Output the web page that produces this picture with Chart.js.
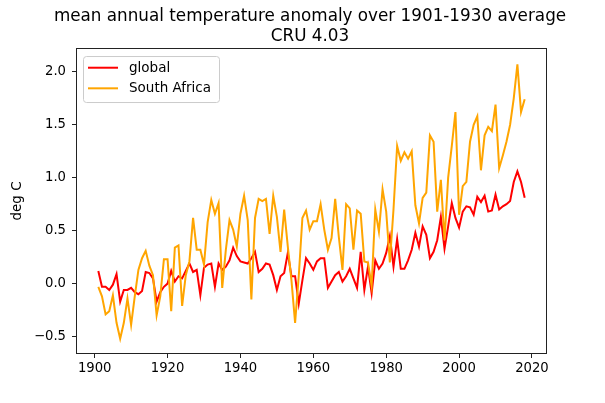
<!DOCTYPE html>
<html>
<head>
<meta charset="utf-8">
<script src="https://cdn.jsdelivr.net/npm/chart.js@4.4.0/dist/chart.umd.min.js"></script>
<style>
  html, body { margin: 0; padding: 0; background: #fff; }
  #wrap { width: 605px; height: 403px; }
</style>
</head>
<body>
<div id="wrap"><canvas id="chart"></canvas></div>
<script>
// years of the CRU 4.03 record
const years = [
  1901, 1902, 1903, 1904, 1905, 1906, 1907, 1908, 1909, 1910,
  1911, 1912, 1913, 1914, 1915, 1916, 1917, 1918, 1919, 1920,
  1921, 1922, 1923, 1924, 1925, 1926, 1927, 1928, 1929, 1930,
  1931, 1932, 1933, 1934, 1935, 1936, 1937, 1938, 1939, 1940,
  1941, 1942, 1943, 1944, 1945, 1946, 1947, 1948, 1949, 1950,
  1951, 1952, 1953, 1954, 1955, 1956, 1957, 1958, 1959, 1960,
  1961, 1962, 1963, 1964, 1965, 1966, 1967, 1968, 1969, 1970,
  1971, 1972, 1973, 1974, 1975, 1976, 1977, 1978, 1979, 1980,
  1981, 1982, 1983, 1984, 1985, 1986, 1987, 1988, 1989, 1990,
  1991, 1992, 1993, 1994, 1995, 1996, 1997, 1998, 1999, 2000,
  2001, 2002, 2003, 2004, 2005, 2006, 2007, 2008, 2009, 2010,
  2011, 2012, 2013, 2014, 2015, 2016, 2017, 2018
];

// anomaly in deg C
const globalAnomaly = [
  0.12, -0.03, -0.03, -0.06, -0.01, 0.09, -0.17, -0.06, -0.06, -0.04,
  -0.08, -0.10, -0.07, 0.11, 0.10, 0.05, -0.17, -0.08, -0.03, 0.00,
  0.12, 0.02, 0.07, 0.05, 0.12, 0.19, 0.11, 0.13, -0.11, 0.15,
  0.18, 0.19, -0.03, 0.19, 0.13, 0.16, 0.22, 0.34, 0.26, 0.21,
  0.20, 0.19, 0.24, 0.30, 0.11, 0.14, 0.19, 0.18, 0.08, -0.06,
  0.07, 0.10, 0.29, 0.07, 0.07, -0.19, 0.03, 0.24, 0.19, 0.13,
  0.21, 0.24, 0.24, -0.04, 0.02, 0.08, 0.11, 0.02, 0.07, 0.14,
  0.05, -0.04, 0.30, -0.06, 0.16, -0.09, 0.22, 0.14, 0.19, 0.29,
  0.45, 0.16, 0.42, 0.14, 0.14, 0.22, 0.32, 0.48, 0.35, 0.54,
  0.46, 0.24, 0.30, 0.41, 0.63, 0.33, 0.54, 0.76, 0.62, 0.53,
  0.68, 0.73, 0.72, 0.65, 0.82, 0.77, 0.83, 0.68, 0.69, 0.84,
  0.70, 0.73, 0.75, 0.78, 0.96, 1.06, 0.96, 0.81
];

const southAfricaAnomaly = [
  -0.03, -0.12, -0.29, -0.26, -0.11, -0.37, -0.52, -0.37, -0.14, -0.39,
  -0.12, 0.13, 0.24, 0.31, 0.17, 0.08, -0.30, -0.12, 0.23, 0.23,
  -0.26, 0.34, 0.36, -0.21, 0.08, 0.21, 0.62, 0.32, 0.32, 0.18,
  0.58, 0.79, 0.66, 0.76, -0.04, 0.32, 0.60, 0.51, 0.35, 0.66,
  0.83, 0.60, -0.15, 0.62, 0.80, 0.78, 0.80, 0.47, 0.83, 0.63,
  0.30, 0.70, 0.35, 0.03, -0.37, 0.07, 0.62, 0.69, 0.51, 0.59,
  0.59, 0.75, 0.51, 0.32, 0.43, 0.80, 0.44, 0.13, 0.75, 0.71,
  0.32, 0.69, 0.66, 0.21, 0.20, -0.02, 0.70, 0.49, 0.89, 0.68,
  0.20, 0.70, 1.30, 1.16, 1.24, 1.18, 1.25, 0.74, 0.57, 0.81,
  0.86, 1.40, 1.34, 0.68, 0.98, 0.41, 1.00, 1.30, 1.62, 0.65,
  0.92, 0.96, 1.34, 1.50, 1.58, 1.07, 1.40, 1.48, 1.44, 1.69,
  1.09, 1.21, 1.34, 1.50, 1.75, 2.07, 1.62, 1.74
];

const xTickValues = [1900, 1920, 1940, 1960, 1980, 2000, 2020];
const yTickValues = [-0.5, 0.0, 0.5, 1.0, 1.5, 2.0];
const titleLines = ['mean annual temperature anomaly over 1901-1930 average', 'CRU 4.03'];
const yAxisLabel = 'deg C';

const FONT = "'DejaVu Sans', sans-serif";

function toPoints(values) {
  return years.map((y, i) => ({ x: y, y: values[i] }));
}

// matplotlib style frame on all four sides
const axesFrame = {
  id: 'axesFrame',
  afterDatasetsDraw(chart) {
    const { ctx, chartArea: a } = chart;
    ctx.save();
    ctx.strokeStyle = '#222';
    ctx.lineWidth = 1;
    ctx.strokeRect(Math.round(a.left) - 0.5, Math.round(a.top) - 0.5,
      Math.round(a.right - a.left) + 1, Math.round(a.bottom - a.top) + 1);
    ctx.restore();
  }
};

// legend box in the upper left of the axes
const legendBox = {
  id: 'legendBox',
  afterDraw(chart) {
    const { ctx, chartArea: a } = chart;
    const x = a.left + 6.5, y = a.top + 7.5, w = 136, h = 46;
    ctx.save();
    ctx.beginPath();
    if (ctx.roundRect) ctx.roundRect(x, y, w, h, 3); else ctx.rect(x, y, w, h);
    ctx.fillStyle = 'rgba(255,255,255,0.8)';
    ctx.fill();
    ctx.strokeStyle = '#cccccc';
    ctx.lineWidth = 1;
    ctx.stroke();
    ctx.font = '13.5px ' + FONT;
    ctx.textBaseline = 'middle';
    ctx.textAlign = 'left';
    chart.data.datasets.forEach((ds, i) => {
      const ly = a.top + 18.7 + i * 20.6;
      ctx.strokeStyle = ds.borderColor;
      ctx.lineWidth = 2;
      ctx.beginPath();
      ctx.moveTo(a.left + 11, ly);
      ctx.lineTo(a.left + 41, ly);
      ctx.stroke();
      ctx.fillStyle = '#000';
      ctx.fillText(ds.label, a.left + 52, ly + 0.5);
    });
    ctx.restore();
  }
};

const ctx = document.getElementById('chart');

const config = {
  type: 'line',
  data: {
    datasets: [{
      label: 'global',
      data: toPoints(globalAnomaly),
      borderColor: '#ff0000',
      borderWidth: 2,
      pointRadius: 0,
      tension: 0,
      fill: false,
      order: 1
    }, {
      label: 'South Africa',
      data: toPoints(southAfricaAnomaly),
      borderColor: '#ffa500',
      borderWidth: 2,
      pointRadius: 0,
      tension: 0,
      fill: false,
      order: 0
    }]
  },
  options: {
    animation: false,
    responsive: true,
    maintainAspectRatio: false,
    // left padding shifts the full-width title so it centres over the axes
    layout: { padding: { left: 15, right: 0, top: 0, bottom: 0 } },
    plugins: {
      legend: { display: false },
      tooltip: { enabled: false },
      title: {
        display: true,
        text: titleLines,
        fullSize: true,
        color: '#000',
        font: { family: FONT, size: 16.8, weight: 'normal', lineHeight: 1.2 },
        padding: { top: 6.3, bottom: 2.4 }
      }
    },
    scales: {
      x: {
        type: 'linear',
        min: 1895.15,
        max: 2023.85,
        afterFit(scale) { scale.height = 50; },
        afterBuildTicks(scale) { scale.ticks = xTickValues.map(v => ({ value: v })); },
        border: { display: false },
        grid: { display: true, drawOnChartArea: false, drawTicks: true, tickLength: 5, tickColor: '#222', tickWidth: 1 },
        ticks: {
          color: '#000',
          padding: 3,
          maxRotation: 0,
          autoSkip: false,
          font: { family: FONT, size: 13.2 },
          callback: v => String(v)
        }
      },
      y: {
        type: 'linear',
        min: -0.655,
        max: 2.215,
        afterFit(scale) { scale.width = 62; },
        afterBuildTicks(scale) { scale.ticks = yTickValues.map(v => ({ value: v })); },
        border: { display: false },
        grid: { display: true, drawOnChartArea: false, drawTicks: true, tickLength: 5, tickColor: '#222', tickWidth: 1 },
        ticks: {
          color: '#000',
          padding: 6,
          autoSkip: false,
          font: { family: FONT, size: 13.2 },
          callback: v => v.toFixed(1).replace('-', '\u2212')
        },
        title: {
          display: true,
          text: yAxisLabel,
          color: '#000',
          font: { family: FONT, size: 13.5 },
          padding: { top: -6, bottom: 0 }
        }
      },
      // empty right-hand axis that only reserves the white margin right of the plot
      yMargin: {
        type: 'linear',
        position: 'right',
        display: true,
        afterFit(scale) { scale.width = 59; },
        border: { display: false },
        grid: { display: false },
        ticks: { display: false }
      }
    }
  },
  plugins: [axesFrame, legendBox]
};

const chart = new Chart(ctx, config);
window.tempChart = chart;
</script>
</body>
</html>
